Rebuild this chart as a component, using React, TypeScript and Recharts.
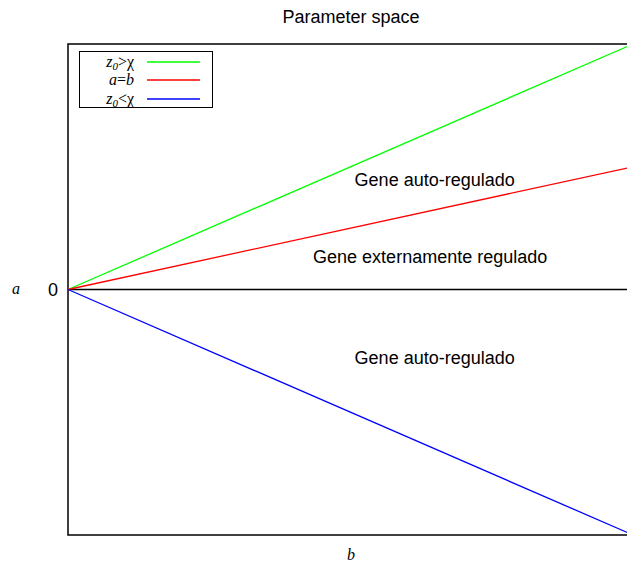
import { LineChart, Line, XAxis, YAxis, ReferenceLine, ReferenceArea, ReferenceDot, Legend, Customized } from 'recharts';

// b axis samples and the three boundary lines a(b)
const bValues = [0, 1];
const upperLine = [0, 1]; // z0 > chi
const middleLine = [0, 0.5]; // a = b
const lowerLine = [0, -1]; // z0 < chi

const regionNames = ['Gene auto-regulado', 'Gene externamente regulado', 'Gene auto-regulado'];
const regionB = [0.649, 0.641, 0.649];
const regionA = [0.448, 0.134, -0.277];

const data = bValues.map((b, i) => ({
  b,
  upper: upperLine[i],
  middle: middleLine[i],
  lower: lowerLine[i],
}));

const SANS = '"Liberation Sans", Arial, Helvetica, sans-serif';
const SERIF = '"Liberation Serif", "Times New Roman", serif';

const subStyle = { fontSize: 11, fontStyle: 'italic', position: 'relative' as const, top: 3, lineHeight: 0 };

const legendRows = [
  { key: 'upper', color: '#00ff00', label: <><i>z</i><span style={subStyle}>0</span>&gt;χ</> },
  { key: 'middle', color: '#ff0000', label: <><i>a</i>=<i>b</i></> },
  { key: 'lower', color: '#0000ff', label: <><i>z</i><span style={subStyle}>0</span>&lt;χ</> },
];

function LegendBox() {
  return (
    <div style={{ border: '1.5px solid #000', background: '#fff', width: 132, height: 54, boxSizing: 'content-box', paddingTop: 0.5 }}>
      {legendRows.map((r) => (
        <div key={r.key} style={{ display: 'flex', alignItems: 'center', height: 18.5 }}>
          <span style={{ width: 54, textAlign: 'right', fontFamily: SERIF, fontSize: 16, lineHeight: '16px', whiteSpace: 'nowrap' }}>
            {r.label}
          </span>
          <svg width={53} height={4} style={{ marginLeft: 13 }}>
            <line x1={0} y1={2} x2={53} y2={2} stroke={r.color} strokeWidth={1.3} />
          </svg>
        </div>
      ))}
    </div>
  );
}

export default function App() {
  return (
    <div style={{ position: 'fixed', left: 0, top: 0, width: 627, height: 562, overflow: 'hidden', background: '#fff' }}>
      <LineChart width={640} height={562} data={data} margin={{ top: 44, right: 7, bottom: 0, left: 0 }}>
        <XAxis
          type="number"
          dataKey="b"
          domain={[0, 1]}
          height={27}
          tick={false}
          tickLine={false}
          axisLine={false}
          label={{
            content: () => (
              <text x={351} y={560} textAnchor="middle" fontFamily={SERIF} fontStyle="italic" fontSize={16} fill="#000">b</text>
            ),
          }}
        />
        <YAxis
          type="number"
          domain={[-1, 1]}
          ticks={[0]}
          width={68}
          tickLine={false}
          axisLine={false}
          tick={(p: any) => (
            <text x={58} y={p.y} dy={6} textAnchor="end" fontFamily={SANS} fontSize={18} fill="#000">0</text>
          )}
          label={{
            content: () => (
              <text x={16} y={294} textAnchor="middle" fontFamily={SERIF} fontStyle="italic" fontSize={16} fill="#000">a</text>
            ),
          }}
        />
        <ReferenceArea x1={0} x2={1} y1={-1} y2={1} fill="none" stroke="#000" strokeWidth={1.5} fillOpacity={0} />
        <ReferenceLine y={0} stroke="#000" strokeWidth={1.3} />
        <Line dataKey="upper" name="z0>χ" stroke="#00ff00" strokeWidth={1.3} dot={false} isAnimationActive={false} />
        <Line dataKey="middle" name="a=b" stroke="#ff0000" strokeWidth={1.3} dot={false} isAnimationActive={false} />
        <Line dataKey="lower" name="z0<χ" stroke="#0000ff" strokeWidth={1.3} dot={false} isAnimationActive={false} />
        {regionNames.map((name, i) => (
          <ReferenceDot
            key={i}
            x={regionB[i]}
            y={regionA[i]}
            r={0}
            stroke="none"
            fill="none"
            label={{ value: name, position: 'center', fontFamily: SANS, fontSize: 18, fill: '#000' }}
          />
        ))}
        <Customized
          component={() => (
            <text x={351} y={23} textAnchor="middle" fontFamily={SANS} fontSize={18} fill="#000">Parameter space</text>
          )}
        />
        <Legend
          layout="horizontal"
          verticalAlign="middle"
          content={() => <LegendBox />}
          wrapperStyle={{ left: 79, top: 51, width: 'auto', height: 'auto' }}
        />
      </LineChart>
    </div>
  );
}
